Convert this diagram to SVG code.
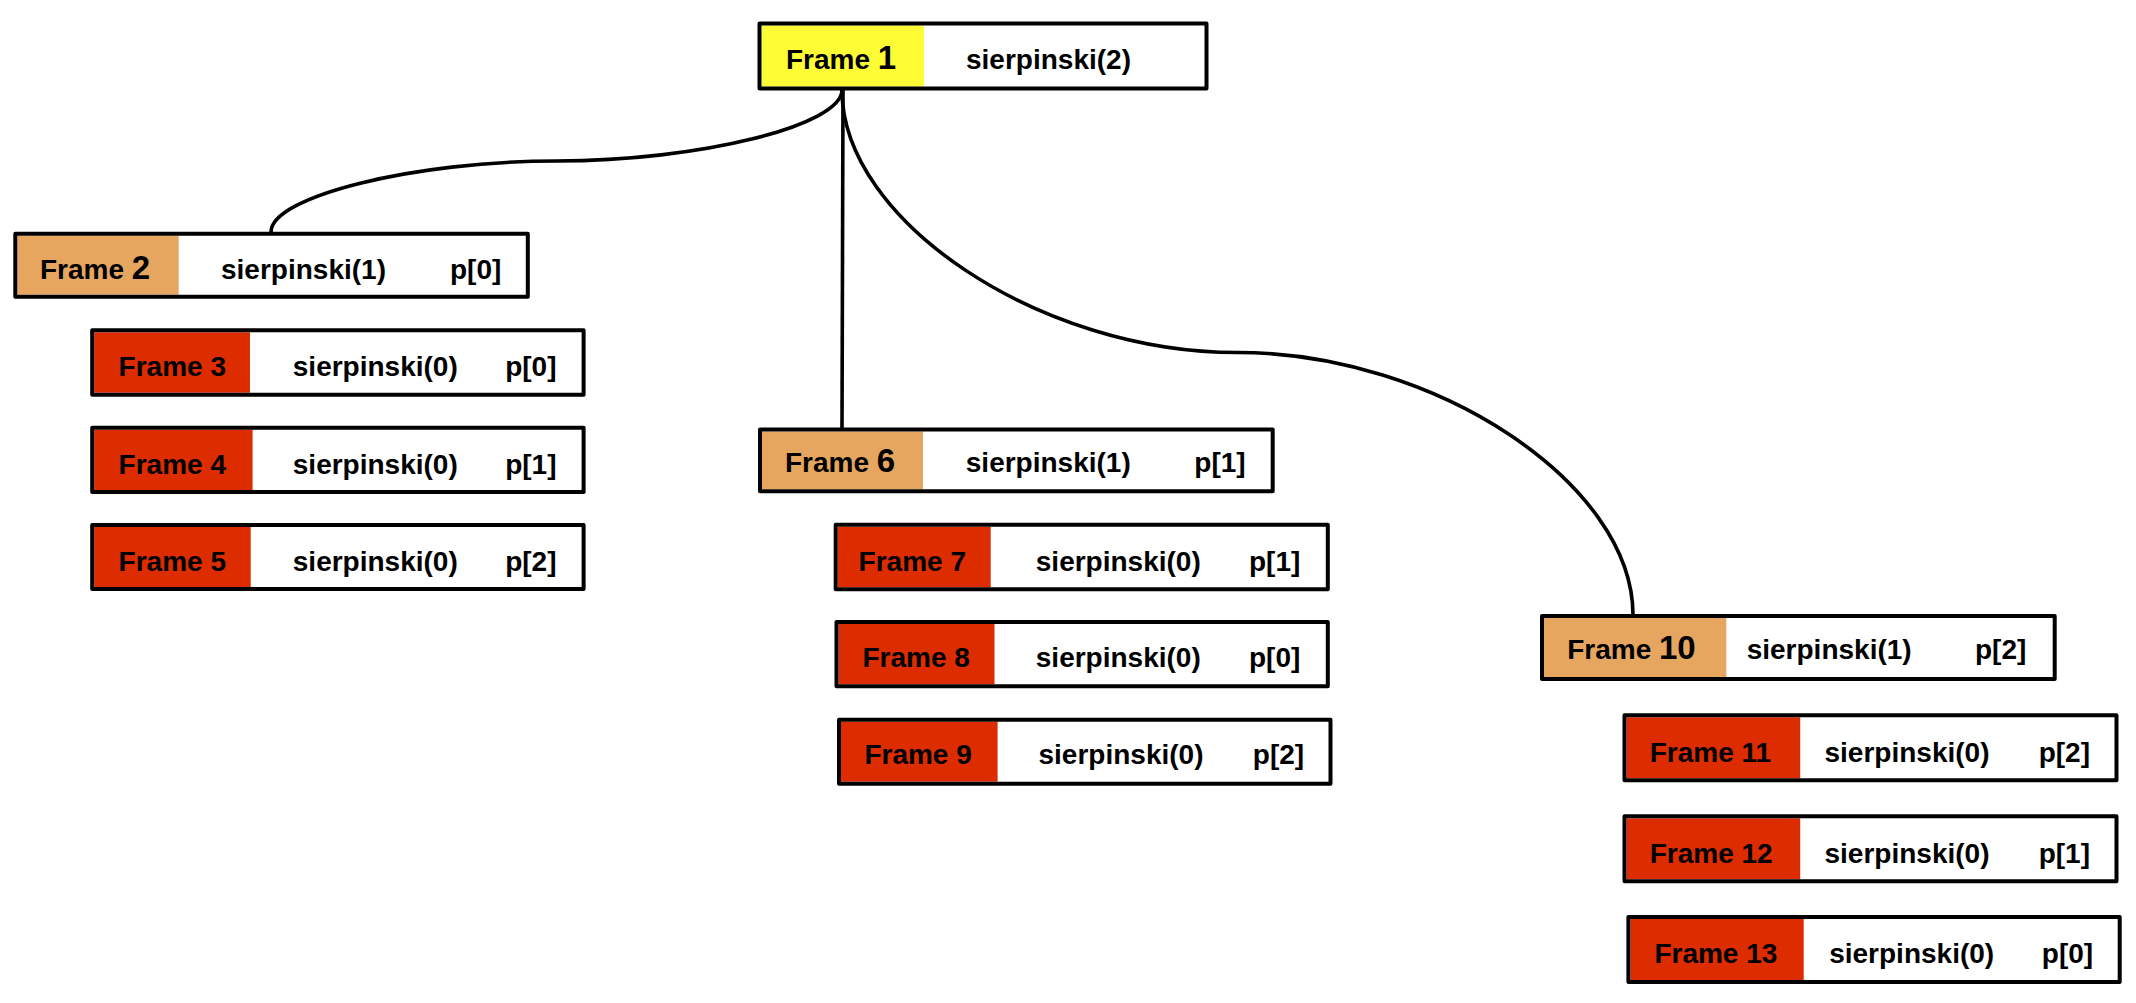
<svg xmlns="http://www.w3.org/2000/svg" width="2136" height="1003" viewBox="0 0 2136 1003">
<style>
  .bg{fill:#ffffff;stroke:none}
  .frame{fill:none;stroke:#000;stroke-width:4;stroke-linejoin:round}
  .yellow{fill:#FEFC35}
  .orange{fill:#E6A65F}
  .red{fill:#DC2C00}
  .t{font-family:"Liberation Sans",Arial,sans-serif;font-weight:bold;font-size:28px;fill:#000}
  .big{font-size:33px}
  .conn{fill:none;stroke:#000;stroke-width:3.6}
</style>
<rect width="2136" height="1003" fill="#ffffff"/>
<g id="connectors">
  <path class="conn" d="M842,90 C842,125.5 699,161 556.5,161 C414,161 271,196.5 271,232"/>
  <path class="conn" d="M843,90 L842,428"/>
  <path class="conn" d="M842,90 C842,221 1040,352.5 1237.5,352.5 C1435,352.5 1633,483.75 1633,615"/>
</g>
<g id="frame1">
  <rect class="bg" x="759.5" y="23.5" width="447" height="65"/>
  <rect class="yellow" x="761.5" y="25.5" width="162.5" height="61"/>
  <rect class="frame" x="759.5" y="23.5" width="447" height="65"/>
  <text class="t" x="786" y="69">Frame <tspan class="big">1</tspan></text>
  <text class="t" x="966" y="69">sierpinski(2)</text>
</g>
<g id="frame2">
  <rect class="bg" x="15.3" y="233.7" width="512.5" height="63"/>
  <rect class="orange" x="17.3" y="235.7" width="161.4" height="59"/>
  <rect class="frame" x="15.3" y="233.7" width="512.5" height="63"/>
  <text class="t" x="40" y="278.5">Frame <tspan class="big">2</tspan></text>
  <text class="t" x="221" y="278.5">sierpinski(1)</text>
  <text class="t" x="450" y="278.5">p[0]</text>
</g>
<g id="frame3">
  <rect class="bg" x="92.2" y="330.3" width="491.4" height="64.4"/>
  <rect class="red" x="94.2" y="332.3" width="155.8" height="60.4"/>
  <rect class="frame" x="92.2" y="330.3" width="491.4" height="64.4"/>
  <text class="t" x="118.6" y="376">Frame 3</text>
  <text class="t" x="292.8" y="376">sierpinski(0)</text>
  <text class="t" x="505.2" y="376">p[0]</text>
</g>
<g id="frame4">
  <rect class="bg" x="92.2" y="427.7" width="491.4" height="64.3"/>
  <rect class="red" x="94.2" y="429.7" width="158.4" height="60.3"/>
  <rect class="frame" x="92.2" y="427.7" width="491.4" height="64.3"/>
  <text class="t" x="118.6" y="474">Frame 4</text>
  <text class="t" x="292.8" y="474">sierpinski(0)</text>
  <text class="t" x="505.2" y="474">p[1]</text>
</g>
<g id="frame5">
  <rect class="bg" x="92.2" y="525" width="491.4" height="64"/>
  <rect class="red" x="94.2" y="527" width="156.5" height="60"/>
  <rect class="frame" x="92.2" y="525" width="491.4" height="64"/>
  <text class="t" x="118.6" y="570.7">Frame 5</text>
  <text class="t" x="292.8" y="570.7">sierpinski(0)</text>
  <text class="t" x="505.2" y="570.7">p[2]</text>
</g>
<g id="frame6">
  <rect class="bg" x="760" y="429.5" width="512.7" height="61.8"/>
  <rect class="orange" x="762" y="431.5" width="161" height="57.8"/>
  <rect class="frame" x="760" y="429.5" width="512.7" height="61.8"/>
  <text class="t" x="785" y="471.7">Frame <tspan class="big">6</tspan></text>
  <text class="t" x="965.8" y="471.7">sierpinski(1)</text>
  <text class="t" x="1194.3" y="471.7">p[1]</text>
</g>
<g id="frame7">
  <rect class="bg" x="835.7" y="524.7" width="492.1" height="64.6"/>
  <rect class="red" x="837.7" y="526.7" width="153" height="60.6"/>
  <rect class="frame" x="835.7" y="524.7" width="492.1" height="64.6"/>
  <text class="t" x="858.6" y="570.7">Frame 7</text>
  <text class="t" x="1035.8" y="570.7">sierpinski(0)</text>
  <text class="t" x="1249" y="570.7">p[1]</text>
</g>
<g id="frame8">
  <rect class="bg" x="836.5" y="622" width="491.3" height="64.3"/>
  <rect class="red" x="838.5" y="624" width="156" height="60.3"/>
  <rect class="frame" x="836.5" y="622" width="491.3" height="64.3"/>
  <text class="t" x="862.5" y="667.3">Frame 8</text>
  <text class="t" x="1035.8" y="667.3">sierpinski(0)</text>
  <text class="t" x="1249" y="667.3">p[0]</text>
</g>
<g id="frame9">
  <rect class="bg" x="839" y="719.7" width="491.5" height="64"/>
  <rect class="red" x="841" y="721.7" width="156.6" height="60"/>
  <rect class="frame" x="839" y="719.7" width="491.5" height="64"/>
  <text class="t" x="864.4" y="764">Frame 9</text>
  <text class="t" x="1038.5" y="764">sierpinski(0)</text>
  <text class="t" x="1252.8" y="764">p[2]</text>
</g>
<g id="frame10">
  <rect class="bg" x="1542" y="616" width="512.7" height="63"/>
  <rect class="orange" x="1544" y="618" width="182.3" height="59"/>
  <rect class="frame" x="1542" y="616" width="512.7" height="63"/>
  <text class="t" x="1567.2" y="659.3">Frame <tspan class="big">10</tspan></text>
  <text class="t" x="1746.7" y="659.3">sierpinski(1)</text>
  <text class="t" x="1975" y="659.3">p[2]</text>
</g>
<g id="frame11">
  <rect class="bg" x="1624.5" y="715.3" width="492" height="65"/>
  <rect class="red" x="1626.5" y="717.3" width="173.7" height="61"/>
  <rect class="frame" x="1624.5" y="715.3" width="492" height="65"/>
  <text class="t" x="1649.7" y="761.7">Frame 11</text>
  <text class="t" x="1824.5" y="761.7">sierpinski(0)</text>
  <text class="t" x="2038.7" y="761.7">p[2]</text>
</g>
<g id="frame12">
  <rect class="bg" x="1624.5" y="816.3" width="492" height="65"/>
  <rect class="red" x="1626.5" y="818.3" width="173.7" height="61"/>
  <rect class="frame" x="1624.5" y="816.3" width="492" height="65"/>
  <text class="t" x="1649.7" y="863.3">Frame 12</text>
  <text class="t" x="1824.5" y="863.3">sierpinski(0)</text>
  <text class="t" x="2038.7" y="863.3">p[1]</text>
</g>
<g id="frame13">
  <rect class="bg" x="1628.4" y="917" width="491.3" height="65"/>
  <rect class="red" x="1630.4" y="919" width="173.3" height="61"/>
  <rect class="frame" x="1628.4" y="917" width="491.3" height="65"/>
  <text class="t" x="1654.4" y="962.7">Frame 13</text>
  <text class="t" x="1829.2" y="962.7">sierpinski(0)</text>
  <text class="t" x="2041.8" y="962.7">p[0]</text>
</g>
</svg>
